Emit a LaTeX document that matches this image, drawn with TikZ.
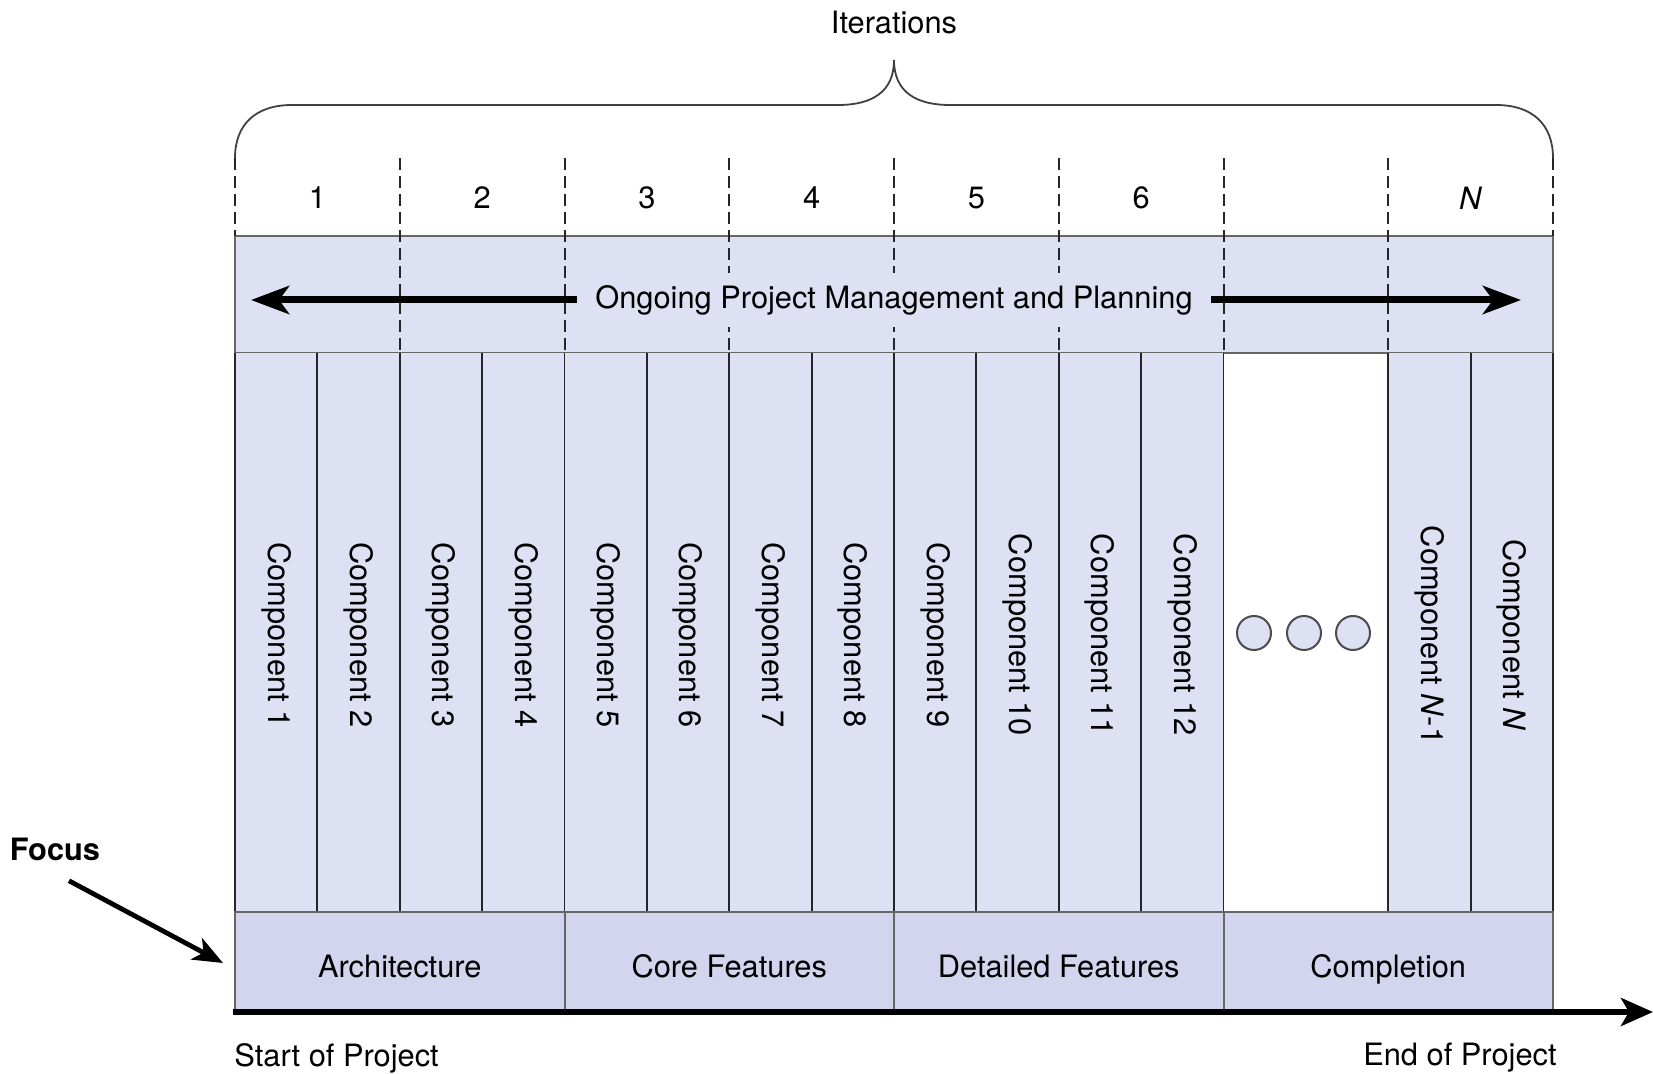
\documentclass[tikz,border=0pt]{standalone}
\usepackage{fontspec}
\setmainfont{TeX Gyre Heros}
\usetikzlibrary{arrows.meta, positioning}

\definecolor{bandblue}{RGB}{222,224,243}
\definecolor{phaseblue}{RGB}{211,212,238}

\begin{document}
\begin{tikzpicture}[
					x=0.5pt, y=-0.5pt,
					every node/.style={font=\fontsize{15.4}{18}\selectfont, inner sep=0pt},
					divider/.style={dash pattern=on 6pt off 3pt, line width=1pt, draw=black!85},
					band/.style={fill=bandblue, draw=black!60, line width=1pt},
					phase/.style={fill=phaseblue, draw=black!60, line width=1pt, minimum width=164.75pt, minimum height=49pt,
						text height=16.6pt, text depth=0pt},
					compline/.style={draw=black!85, line width=0.9pt},
					comptext/.style={rotate=-90},
					bigarrow/.style={line width=3.5pt, -{Stealth[length=19pt, width=14pt, inset=5pt]}}
					]
					\useasboundingbox (0,0) rectangle (1654,1074);
					% brace over the iterations
					\node (iter) at (894,23) {Iterations};
					\draw[line width=0.9pt, black!75] (235,158) .. controls (235,125) and (255,105) .. (292,105) -- (838,105)
						.. controls (872,105) and (894,92) .. (894,60)
						.. controls (894,92) and (916,105) .. (950,105) -- (1496,105)
						.. controls (1533,105) and (1553,125) .. (1553,158);
					% planning band
					\draw[band] (235,236) rectangle (1553,353);
					% component columns
					\fill[bandblue] (235,353) rectangle (1224,912);
					\fill[bandblue] (1388,353) rectangle (1553,912);
					\foreach \j in {0,...,12,14,15,16}
						\draw[compline] ({235+82.375*\j},353) -- ({235+82.375*\j},912);
					\foreach \j in {1,...,12}
						\node[comptext] (comp\j) at ({235+82.375*(\j-0.5)},635) {Component \j};
					\node[comptext] (compNm) at ({235+82.375*14.5},635) {Component \textit{N}-1};
					\node[comptext] (compN) at ({235+82.375*15.5},635) {Component \textit{N}};
					\foreach \c [count=\i] in {1254,1304,1353}
						\draw[band, draw=black!70] (\c,633) circle[radius=8.5pt];
					% iteration dividers and numbers
					\foreach \k in {0,8}
						\draw[divider] ({235+164.75*\k},158) -- ({235+164.75*\k},236);
					\foreach \k in {1,...,7}
						\draw[divider] ({235+164.75*\k},158) -- ({235+164.75*\k},353);
					\foreach \k in {1,...,6}
						\node (it\k) at ({235+164.75*(\k-0.5)},198) {\k};
					\node (itN) at ({235+164.75*7.5},198) {\textit{N}};
					% planning arrows
					\node[fill=bandblue, inner ysep=6pt, inner xsep=2pt] (plan) at (894,300) {Ongoing Project Management and Planning};
					\coordinate (planL) at (251,300);
					\coordinate (planR) at (1521,300);
					\draw[bigarrow] ([xshift=-7pt]plan.west) -- (planL);
					\draw[bigarrow] ([xshift=7pt]plan.east) -- (planR);
					% phases
					\foreach \name/\txt [count=\i from 0] in {arch/Architecture, core/Core Features, detail/Detailed Features, done/Completion}
						\node[phase] (\name) at ({235+329.5*\i+164.75},961) {\txt};
					% time axis
					\coordinate (axisL) at (233,1012);
					\coordinate (axisR) at (1653,1012);
					\draw[line width=3pt, -{Stealth[length=16pt, width=14pt, inset=4pt]}] (axisL) -- (axisR);
					\node[anchor=west] (start) at (234,1058) {Start of Project};
					\node[anchor=east] (end) at (1557,1058) {End of Project};
					% focus
					\node[font=\fontsize{15.4}{18}\selectfont\bfseries] (focus) at (55,849) {Focus};
					\draw[line width=2.4pt, -{Stealth[length=15pt, width=12pt, inset=4pt]}]
						([xshift=7pt, yshift=-10pt]focus.south) -- ([xshift=-5.5pt, yshift=-1pt]arch.west);
				\end{tikzpicture}
\end{document}
